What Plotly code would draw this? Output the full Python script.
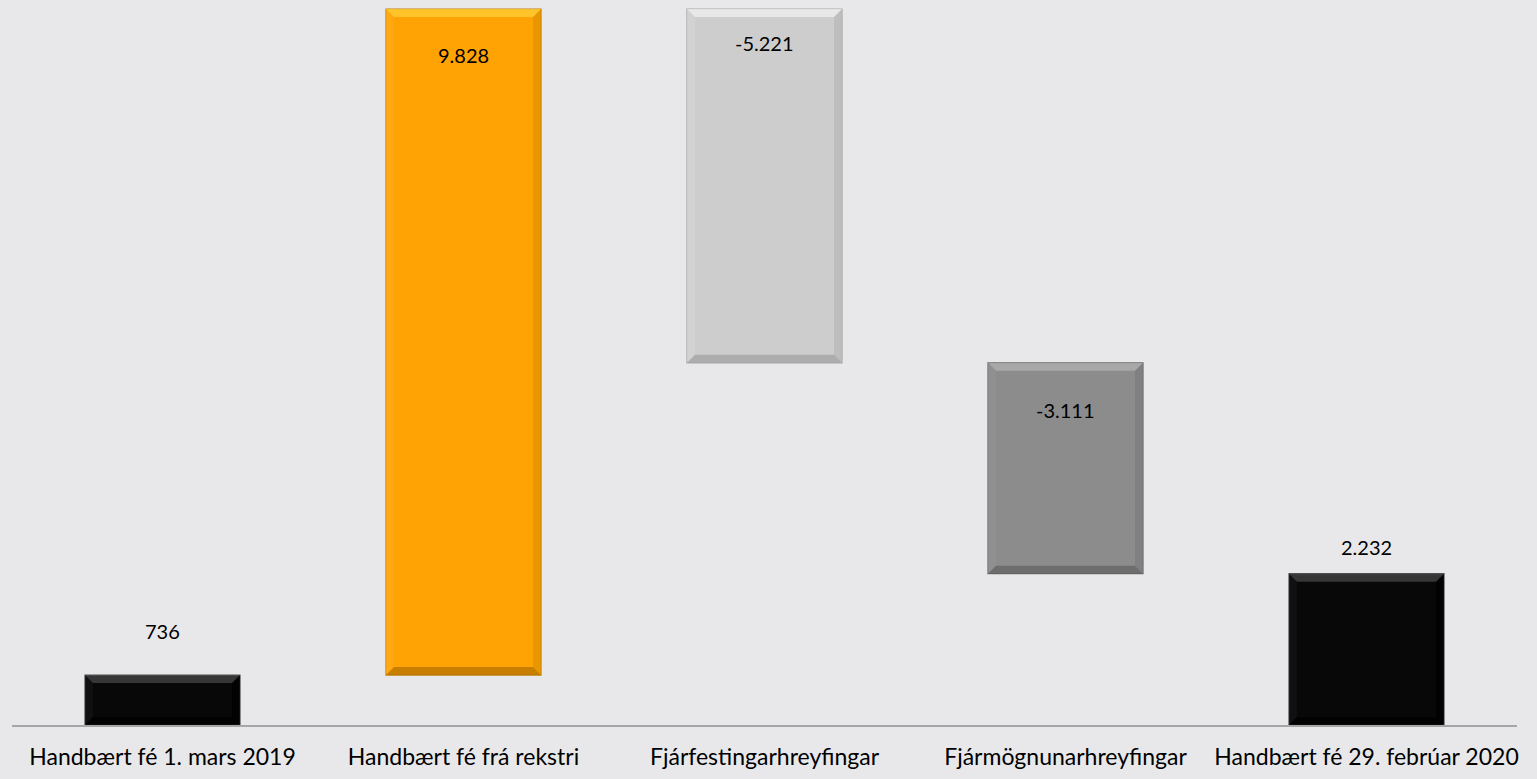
import plotly.graph_objects as go

categories = ["Handbært fé 1. mars 2019", "Handbært fé frá rekstri",
              "Fjárfestingarhreyfingar", "Fjármögnunarhreyfingar",
              "Handbært fé 29. febrúar 2020"]
values = [736, 9828, -5221, -3111, 2232]
kinds = ["total", "relative", "relative", "relative", "total"]

colors = ["#080808", "#FFA305", "#CDCDCD", "#8C8C8C", "#080808"]
edge_colors = ["#505050", "#C08010", "#A8A8A8", "#6A6A6A", "#505050"]
top_colors = ["#4A4A4A", "#FFD23A", "#F4F4F4", "#B4B4B4", "#4A4A4A"]
bottom_colors = ["#000000", "#B06E00", "#A0A0A0", "#606060", "#000000"]
side_light = ["#141414", "#FFAA18", "#D4D4D4", "#929292", "#141414"]
side_dark = ["#000000", "#E09200", "#B8B8B8", "#7A7A7A", "#000000"]
label_shift = [44, -46, -34, -47, 27]

# compute bases / heights
bases, heights, tops = [], [], []
running = 0
for v, k in zip(values, kinds):
    if k == "total":
        b, h = 0, v
        running = v
    else:
        start = running
        running = running + v
        b, h = min(start, running), abs(v)
    bases.append(b)
    heights.append(h)
    tops.append(b + h)


def fmt(v):
    s = f"{abs(v):,}".replace(",", ".")
    return ("-" if v < 0 else "") + s


bargap = 0.485
plot_h_px = 725
plot_w_px = 1505
ymax = max(tops) * 725 / 716

fig = go.Figure()
fig.add_trace(go.Bar(
    x=categories, y=heights, base=bases,
    marker=dict(color=colors, line=dict(color=edge_colors, width=1.2)),
    hoverinfo="skip", showlegend=False,
))

# bevel decoration derived from the bars
bev_px = 8
dy = bev_px * ymax / plot_h_px
dx = bev_px * len(categories) / plot_w_px
hw = (1 - bargap) / 2
shapes = []
for i, (b, t) in enumerate(zip(bases, tops)):
    x0, x1 = i - hw, i + hw
    y0, y1 = b, t
    polys = [
        (f"M{x0},{y0} L{x0},{y1} L{x0+dx},{y1-dy} L{x0+dx},{y0+dy} Z", side_light[i]),
        (f"M{x1},{y0} L{x1},{y1} L{x1-dx},{y1-dy} L{x1-dx},{y0+dy} Z", side_dark[i]),
        (f"M{x0},{y1} L{x1},{y1} L{x1-dx},{y1-dy} L{x0+dx},{y1-dy} Z", top_colors[i]),
        (f"M{x0},{y0} L{x1},{y0} L{x1-dx},{y0+dy} L{x0+dx},{y0+dy} Z", bottom_colors[i]),
    ]
    for p, c in polys:
        shapes.append(dict(type="path", path=p, xref="x", yref="y",
                           fillcolor=c, line=dict(width=0), opacity=0.7,
                           layer="above"))

annotations = []
for c, t, v, s in zip(categories, tops, values, label_shift):
    annotations.append(dict(x=c, y=t, text=fmt(v), showarrow=False,
                            yshift=s, xanchor="center", yanchor="middle",
                            font=dict(family="Lato, Open Sans, sans-serif", size=20, color="#000000")))

fig.update_layout(
    width=1537, height=779,
    margin=dict(l=12, r=20, t=0, b=54),
    paper_bgcolor="#E8E8EA", plot_bgcolor="#E8E8EA",
    bargap=bargap,
    shapes=shapes,
    annotations=annotations,
    font=dict(family="Lato, Open Sans, sans-serif", size=23, color="#000000"),
    xaxis=dict(showline=True, linecolor="#A6A6A6", linewidth=2, ticks="",
               showgrid=False, zeroline=False, ticklabelstandoff=10,
               tickfont=dict(size=23, color="#000000")),
    yaxis=dict(range=[0, ymax], visible=False, showgrid=False, zeroline=False),
)

fig.write_html("out.html", config={"displayModeBar": False},
               post_script="document.body.style.margin='0';")
